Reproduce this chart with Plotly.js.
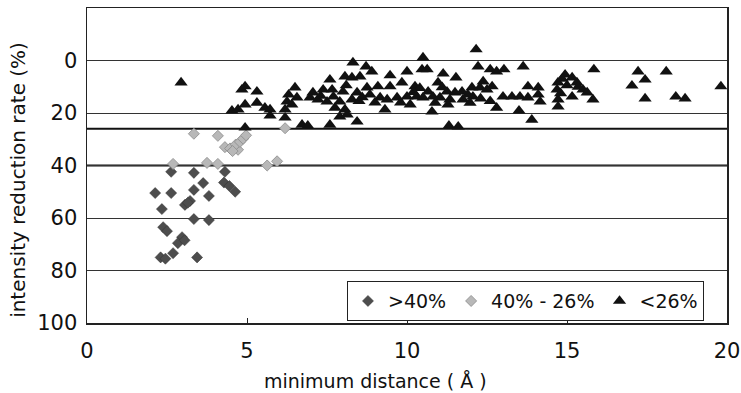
<!DOCTYPE html>
<html>
<head>
<meta charset="utf-8">
<script src="https://cdn.plot.ly/plotly-3.0.1.min.js"></script>
<style>html,body{margin:0;padding:0;background:#fff;}#chart{width:741px;height:393px;}</style>
</head>
<body>
<div id="chart"></div>
<script>
// Series names
const seriesNames = [">40%", "40% - 26%", "<26%"];

// >40% (dark diamonds): minimum distance (Å), intensity reduction rate (%)
const highX = [2.63,3.34,3.63,2.13,2.63,3.34,3.81,3.22,3.06,3.15,2.34,3.34,3.81,2.38,2.50,2.97,2.84,3.05,2.69,2.30,2.45,3.44,4.31,4.28,4.45,4.63];
const highY = [42.4,42.8,46.7,50.5,50.5,49.3,51.6,53.5,55.0,54.2,56.6,60.4,60.8,63.5,65.0,67.3,69.6,68.5,73.4,75.0,75.5,75.0,42.4,46.5,47.8,50.0];

// 40% - 26% (light diamonds)
const midX = [3.34,4.09,2.69,3.75,4.09,4.31,4.47,4.72,4.65,4.78,4.88,4.97,5.63,5.94,6.19,4.55];
const midY = [27.9,28.7,39.4,39.0,39.4,33.0,33.5,34.0,32.0,31.0,29.8,28.5,40.0,38.4,25.8,34.5];

// <26% (black triangles)
const lowX = [2.94,4.84,4.94,5.31,4.94,5.31,4.53,4.72,5.56,5.72,5.72,4.94,
  6.19,6.19,6.25,6.40,6.50,6.56,6.30,6.72,6.90,
  7.06,7.38,7.66,8.00,8.44,8.75,9.09,9.47,9.84,10.25,
  8.31,8.72,8.90,7.59,8.06,8.28,8.53,9.47,10.00,
  6.97,7.22,7.50,7.90,8.28,8.84,9.16,9.38,9.69,10.00,10.30,
  7.75,8.06,7.90,8.13,9.31,8.44,7.59,10.10,
  7.30,7.70,8.50,8.60,9.00,9.80,8.10,
  10.50,12.16,12.22,12.60,12.80,13.03,13.63,10.47,10.63,11.13,11.53,10.97,12.38,12.66,13.78,14.10,
  10.66,11.25,11.50,11.72,12.03,12.28,12.50,
  10.50,10.81,11.03,11.34,11.75,12.06,13.00,13.28,13.53,13.78,14.10,14.16,
  10.88,11.28,11.97,10.78,12.80,13.50,13.90,11.31,11.60,
  10.40,11.90,12.30,12.60,10.20,11.10,
  15.84,17.22,18.10,17.44,17.03,19.81,
  14.94,15.16,15.31,14.72,15.50,14.69,15.16,15.63,15.81,14.72,14.72,17.44,18.40,18.69,
  14.85,15.00,14.80,15.35];
const lowY = [8.4,11.1,9.9,11.9,16.8,16.1,19.1,18.7,18.0,18.7,21.0,25.6,
  18.7,21.8,15.7,16.8,10.3,14.1,13.0,24.5,24.9,
  12.2,11.1,11.1,11.9,12.2,10.3,9.9,9.9,8.4,9.9,
  0.8,2.3,4.2,7.3,6.1,6.5,6.1,5.7,4.2,
  14.1,14.9,15.7,15.7,14.9,13.0,14.1,14.9,14.1,13.8,13.8,
  18.0,18.7,21.4,20.6,18.7,23.3,24.5,16.8,
  13.5,13.8,15.5,14.0,16.0,16.0,9.5,
  -1.1,-4.2,2.3,3.4,4.2,3.4,2.3,3.4,3.4,5.0,6.5,8.4,8.0,9.9,9.9,10.3,
  11.9,11.9,12.2,11.9,10.3,10.3,11.1,
  14.1,13.8,14.1,14.9,14.9,13.8,13.8,13.8,13.8,14.1,13.0,15.7,
  16.1,16.8,16.1,19.5,18.0,19.1,22.6,24.9,25.2,
  10.5,13.0,14.5,15.5,12.0,10.2,
  3.4,4.2,4.2,7.3,9.6,9.9,
  5.4,6.5,8.4,8.4,11.1,11.1,13.8,12.2,14.9,14.9,17.6,14.5,13.8,14.5,
  7.0,9.5,12.5,10.0];

// Axis ticks, threshold lines, titles
const xTicks = [0,5,10,15,20];
const yTicks = [0,20,40,60,80,100];
const thresholds = [26,40];
const xTitle = "minimum distance ( Å )";
const yTitle = "intensity reduction rate (%)";

const FONT = "DejaVu Sans, Verdana, sans-serif";

const traces = [
  {x: highX, y: highY, name: seriesNames[0], type: "scatter", mode: "markers",
   marker: {symbol: "diamond", size: 8.5, color: "#4d4d4d", line: {color: "#333", width: 0.5}}},
  {x: midX, y: midY, name: seriesNames[1], type: "scatter", mode: "markers",
   marker: {symbol: "diamond", size: 8.5, color: "#b8b8b8", line: {color: "#8a8a8a", width: 0.8}}},
  {x: lowX, y: lowY, name: seriesNames[2], type: "scatter", mode: "markers",
   marker: {symbol: "triangle-up", size: 11.5, color: "#111", line: {width: 0}}}
];

const shapes = thresholds.map(v => ({
  type: "line", xref: "paper", x0: 0, x1: 1, yref: "y", y0: v, y1: v,
  line: {color: "#111", width: 2}, layer: "below"
}));

const layout = {
  width: 741, height: 393,
  margin: {l: 87, r: 14, t: 8, b: 70, pad: 0},
  paper_bgcolor: "#fff", plot_bgcolor: "#fff",
  font: {family: FONT, color: "#111", size: 18},
  showlegend: true,
  legend: {
    orientation: "h", x: 0.964, xanchor: "right", y: 0.133, yanchor: "top",
    bgcolor: "#fff", bordercolor: "#222", borderwidth: 1,
    font: {family: FONT, size: 19, color: "#111"},
    itemwidth: 30, tracegroupgap: 0
  },
  xaxis: {
    range: [0, 20], tickvals: xTicks, ticktext: xTicks.map(String),
    showgrid: false, zeroline: false,
    showline: true, linecolor: "#222", linewidth: 1.5, mirror: true,
    ticks: "inside", ticklen: 5, tickcolor: "#222",
    ticklabelstandoff: 8,
    tickfont: {family: FONT, size: 21, color: "#111"}
  },
  yaxis: {
    range: [100, -20], tickvals: yTicks, ticktext: yTicks.map(String),
    showgrid: true, gridcolor: "#333", gridwidth: 1, zeroline: false,
    showline: true, linecolor: "#222", linewidth: 1.5, mirror: true,
    ticks: "", ticklen: 0,
    ticklabelstandoff: 4,
    tickfont: {family: FONT, size: 21, color: "#111"}
  },
  shapes: shapes,
  annotations: [
    {text: xTitle, xref: "paper", yref: "paper", x: 0.45, y: -0.184,
     xanchor: "center", yanchor: "middle", showarrow: false,
     font: {family: FONT, size: 19, color: "#111"}},
    {text: yTitle, xref: "paper", yref: "paper", x: -0.108, y: 0.454,
     xanchor: "center", yanchor: "middle", showarrow: false, textangle: -90,
     font: {family: FONT, size: 20, color: "#111"}}
  ]
};

Plotly.newPlot("chart", traces, layout, {displayModeBar: false, staticPlot: true});
</script>
</body>
</html>
